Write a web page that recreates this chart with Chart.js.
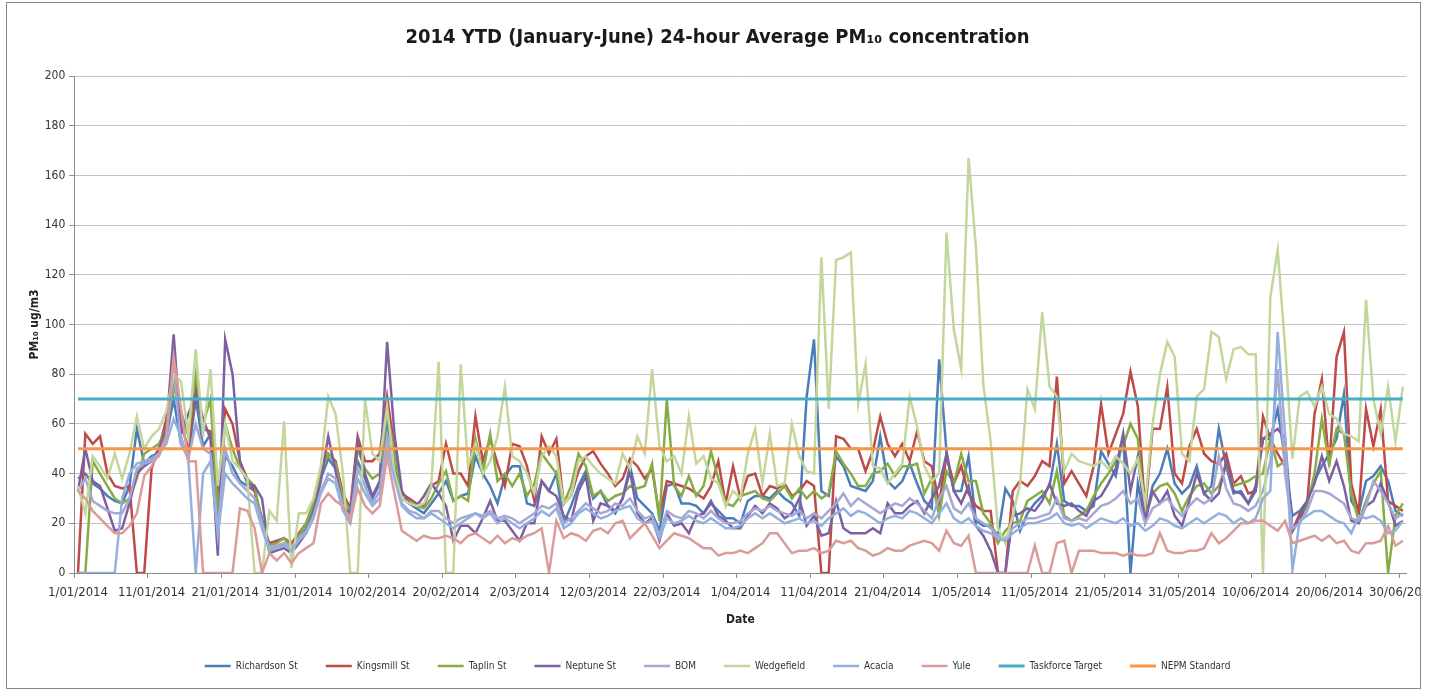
<!DOCTYPE html>
<html>
<head>
<meta charset="utf-8">
<script src="https://cdn.jsdelivr.net/npm/chart.js@4.4.1/dist/chart.umd.min.js"></script>
<style>
html, body { margin: 0; padding: 0; background: #fff; }
#wrap { position: absolute; left: 0; top: 0; width: 1421px; height: 690px; overflow: hidden; }
#frame { position: absolute; left: 6px; top: 2px; width: 1413px; height: 685px; border: 1px solid #8a8a8a; pointer-events: none; }
</style>
</head>
<body>
<div id="wrap"><canvas id="chart" width="1435" height="690"></canvas></div>
<div id="frame"></div>
<script>
// months of the period, used to build the daily category labels
const months = [["01", 31], ["02", 28], ["03", 31], ["04", 30], ["05", 31], ["06", 30]];
const yTicks = { min: 0, max: 200, step: 20 };
const taskforceTarget = 70;
const nepmStandard = 50;

// daily 24h averages, 1 Jan .. 30 Jun 2014 (rows of 10 days)
const richardson = [38,40,36,34,31,29,28,35,58,44,
  47,48,55,70,52,47,70,51,56,22,
  47,43,37,35,33,22,9,10,12,9,
  14,18,26,38,46,42,28,22,45,38,
  30,36,60,45,30,28,26,24,28,32,
  37,29,31,32,47,40,35,28,39,43,
  43,28,27,37,33,40,20,27,35,41,
  30,33,27,24,30,43,30,27,24,17,
  35,36,28,28,27,24,28,25,22,22,
  20,29,31,31,30,33,30,28,23,71,
  94,33,31,47,43,35,34,33,37,55,
  37,34,37,44,36,29,26,86,49,33,
  33,47,21,19,19,15,34,29,17,24,
  28,31,35,52,29,27,27,25,27,49,
  44,39,55,0,36,21,35,40,50,36,
  32,35,43,32,35,58,43,32,33,28,
  35,54,54,66,45,23,25,29,37,43,
  48,54,72,29,24,37,39,43,37,25,
  23];
const kingsmill = [0,56,52,55,40,35,34,35,0,0,
  42,50,62,82,60,50,75,58,57,30,
  66,60,45,38,33,20,12,13,14,12,
  16,20,28,40,48,45,32,26,55,45,
  45,48,71,50,32,30,28,27,35,37,
  52,40,40,35,63,45,54,44,35,52,
  51,43,29,55,48,54,28,31,41,47,
  49,44,40,35,38,46,43,38,42,23,
  37,36,35,34,32,30,35,45,28,43,
  30,39,40,31,35,34,36,31,33,37,
  35,0,0,55,54,50,50,41,49,63,
  52,47,52,45,57,45,43,28,47,36,
  43,32,27,25,25,0,0,33,37,35,
  39,45,43,79,36,41,36,31,43,68,
  48,56,64,81,67,25,58,58,75,40,
  36,51,58,48,45,44,48,36,39,32,
  33,63,54,48,43,17,24,28,64,78,
  43,87,97,36,24,66,51,66,29,27,
  25];
const taplin = [0,0,45,40,35,30,28,30,38,48,
  50,52,58,75,65,55,80,60,70,25,
  60,50,42,38,35,20,11,12,14,10,
  15,20,28,40,48,44,30,25,50,42,
  38,40,65,48,30,29,27,26,30,36,
  41,29,31,29,54,40,56,37,40,35,
  40,31,36,48,44,40,28,35,48,43,
  31,33,29,31,32,35,34,35,44,21,
  70,35,31,39,31,35,49,38,28,27,
  31,32,33,30,29,32,35,30,34,30,
  33,30,32,49,44,40,35,35,40,41,
  44,39,43,43,44,32,38,23,41,36,
  48,37,37,24,20,12,17,20,21,29,
  31,33,28,41,23,21,23,25,31,36,
  40,45,51,60,54,23,32,35,36,32,
  25,31,35,36,32,35,43,35,36,37,
  39,40,54,43,45,17,21,27,40,62,
  44,58,56,32,21,29,36,41,0,23,
  28];
const neptune = [33,50,37,35,26,17,18,28,40,43,
  45,50,58,96,56,64,72,62,54,7,
  94,80,45,36,35,30,8,9,10,8,
  12,16,24,37,55,41,27,24,53,40,
  31,37,93,56,33,28,27,31,36,32,
  27,13,19,19,16,22,29,21,21,17,
  13,20,20,37,33,31,23,21,33,39,
  21,28,27,25,30,41,24,20,22,13,
  24,19,20,16,23,24,29,23,21,18,
  18,23,27,24,28,26,22,24,30,19,
  23,15,16,29,18,16,16,16,18,16,
  28,24,24,27,29,24,30,35,48,33,
  28,35,19,15,9,0,0,23,24,26,
  25,29,36,28,27,28,25,23,29,31,
  36,42,56,33,47,21,33,28,33,23,
  19,29,40,32,29,32,45,33,32,28,
  33,54,56,58,54,17,22,29,36,47,
  37,45,35,21,20,27,29,36,29,19,
  21];
const bom = [33,38,29,27,25,24,24,30,42,44,
  45,47,55,82,52,46,60,50,48,18,
  50,40,36,33,30,20,10,11,12,10,
  14,17,23,33,40,38,27,22,42,35,
  28,33,55,40,28,25,24,22,25,25,
  22,20,22,23,24,23,25,22,23,22,
  20,22,24,27,26,28,20,22,25,28,
  26,24,25,28,27,30,25,22,23,15,
  25,23,22,25,24,22,25,22,20,20,
  21,24,26,25,27,25,24,23,25,22,
  24,22,25,28,32,27,30,28,26,24,
  26,28,27,30,28,25,22,30,35,26,
  24,28,22,20,18,15,14,18,20,22,
  22,23,24,30,22,21,22,21,24,27,
  28,30,33,28,30,20,26,28,30,26,
  23,27,30,28,30,47,34,28,27,25,
  27,33,45,82,40,18,20,25,33,33,
  32,30,28,22,21,27,37,33,28,22,
  24];
const wedgefield = [35,24,47,43,38,48,38,48,63,50,
  55,58,65,80,77,55,90,55,82,35,
  60,45,42,38,0,0,25,21,61,2,
  24,24,30,43,71,64,40,0,0,70,
  48,45,67,40,30,28,27,28,35,85,
  0,0,84,43,52,40,45,55,75,47,
  45,40,32,47,51,47,28,31,45,47,
  43,40,38,36,48,42,55,48,82,51,
  45,47,40,63,44,47,38,36,27,33,
  30,48,58,36,56,35,36,60,47,41,
  40,127,66,126,127,129,68,84,43,42,
  36,40,44,71,59,43,37,40,137,98,
  82,167,131,76,53,18,12,23,36,74,
  66,105,75,71,41,48,45,44,43,45,
  42,47,44,40,46,28,60,80,93,87,
  48,45,71,74,97,95,78,90,91,88,
  88,0,111,130,91,46,71,73,67,75,
  64,62,56,55,53,110,70,56,75,53,
  75];
const acacia = [0,0,0,0,0,0,30,40,44,45,
  46,48,52,62,55,45,0,40,45,15,
  40,36,33,30,28,18,9,10,11,9,
  13,16,22,32,38,36,25,20,38,32,
  27,30,50,38,27,24,22,22,24,22,
  20,18,20,22,24,22,24,20,22,20,
  18,20,22,25,23,26,18,20,24,26,
  24,22,23,25,26,27,22,20,21,14,
  22,20,21,23,21,20,22,20,18,18,
  19,22,24,22,24,22,20,21,22,20,
  21,19,22,24,26,23,25,24,22,20,
  22,23,22,25,24,22,20,24,28,22,
  20,22,19,17,16,14,13,16,18,20,
  20,21,22,24,20,19,20,18,20,22,
  21,20,22,19,20,17,19,22,21,19,
  18,20,22,20,22,24,23,20,22,20,
  22,30,33,97,56,1,21,23,25,25,
  23,21,20,16,23,22,23,21,16,17,
  21];
const yule = [33,30,25,22,19,16,16,19,24,39,
  43,48,55,87,66,45,45,0,0,0,
  0,0,26,25,18,0,8,5,8,4,
  8,10,12,28,32,29,27,21,34,27,
  24,27,47,32,17,15,13,15,14,14,
  15,14,12,15,16,14,12,15,12,14,
  13,15,16,18,0,21,14,16,15,13,
  17,18,16,20,21,14,17,20,15,10,
  13,16,15,14,12,10,10,7,8,8,
  9,8,10,12,16,16,12,8,9,9,
  10,8,9,13,12,13,10,9,7,8,
  10,9,9,11,12,13,12,9,17,12,
  11,15,0,0,0,0,0,0,0,0,
  11,0,0,12,13,0,9,9,9,8,
  8,8,7,8,7,7,8,16,9,8,
  8,9,9,10,16,12,14,17,20,20,
  21,21,19,17,21,12,13,14,15,13,
  15,12,13,9,8,12,12,13,19,11,
  13];

const dates = [];
months.forEach(([m, n]) => {
  for (let d = 1; d <= n; d++) dates.push(d + "/" + m + "/2014");
});

const FONT = "'Liberation Sans Narrow', 'DejaVu Sans Condensed', 'Open Sans', sans-serif";
Chart.defaults.font.family = FONT;

const series = [
  ["Richardson St", richardson, "#4a7ebb"],
  ["Kingsmill St", kingsmill, "#be4b48"],
  ["Taplin St", taplin, "#86ad45"],
  ["Neptune St", neptune, "#7d60a0"],
  ["BOM", bom, "#a7a7d6"],
  ["Wedgefield", wedgefield, "#c3d69b"],
  ["Acacia", acacia, "#93b1dc"],
  ["Yule", yule, "#db9b99"],
  ["Taskforce Target", dates.map(() => taskforceTarget), "#4bacc6"],
  ["NEPM Standard", dates.map(() => nepmStandard), "#f79646"]
];

const datasets = series.map(([label, data, color], i) => ({
  label: label,
  data: data,
  borderColor: color,
  backgroundColor: color,
  borderWidth: i >= 8 ? 3 : 2.5,
  pointRadius: 0,
  tension: 0,
  order: series.length - i   // later series drawn on top, like the original
}));

new Chart(document.getElementById("chart"), {
  type: "line",
  data: { labels: dates, datasets: datasets },
  options: {
    responsive: false,
    animation: false,
    devicePixelRatio: 1,
    layout: { autoPadding: false, padding: { bottom: 12 } },
    plugins: {
      title: {
        display: true,
        text: "2014 YTD (January-June) 24-hour Average PM₁₀ concentration",
        font: { size: 20, weight: "bold" },
        color: "#1a1a1a",
        padding: { top: 26, bottom: 26 }
      },
      legend: {
        position: "bottom",
        maxHeight: 45,
        labels: {
          usePointStyle: true,
          pointStyle: "line",
          pointStyleWidth: 26,
          boxHeight: 10,
          padding: 28,
          color: "#333",
          font: { size: 10 },
          sort: (a, b) => a.datasetIndex - b.datasetIndex
        }
      },
      tooltip: { enabled: false }
    },
    scales: {
      x: {
        offset: true,
        grid: {
          offset: true,
          drawOnChartArea: false,
          tickLength: 5,
          tickColor: (ctx) => ctx.index % 10 === 0 ? "#8c8c8c" : "rgba(0,0,0,0)"
        },
        border: { color: "#8c8c8c" },
        ticks: {
          autoSkip: false,
          maxRotation: 0,
          minRotation: 0,
          padding: 7,
          color: "#333",
          font: { size: 13 },
          callback: function (v, i) { return i % 10 === 0 ? this.getLabelForValue(v) : ""; }
        },
        title: {
          display: true,
          text: "Date",
          color: "#222",
          font: { size: 12, weight: "bold", lineHeight: 1 },
          padding: { top: 0, bottom: 7 }
        },
        afterFit: (s) => {
          s.height = 60;
          // let the last date label run past the frame instead of shrinking the plot
          s.paddingLeft = 0;
          s.paddingRight = 0;
        }
      },
      y: {
        min: yTicks.min,
        max: yTicks.max,
        ticks: { stepSize: yTicks.step, padding: 4, color: "#333", font: { size: 12 } },
        grid: { color: "#c4c4c4", tickLength: 5, tickColor: "#8c8c8c" },
        border: { color: "#8c8c8c" },
        title: {
          display: true,
          text: "PM₁₀ ug/m3",
          color: "#222",
          font: { size: 12, weight: "bold" },
          padding: { top: 28, bottom: 0 }
        },
        afterFit: (s) => { s.width = 74.3; }
      },
      // empty axis that only keeps the right margin
      y2: {
        position: "right",
        grid: { display: false },
        border: { display: false },
        ticks: { display: false },
        afterFit: (s) => { s.width = 28.5; }
      }
    }
  }
});
</script>
</body>
</html>
